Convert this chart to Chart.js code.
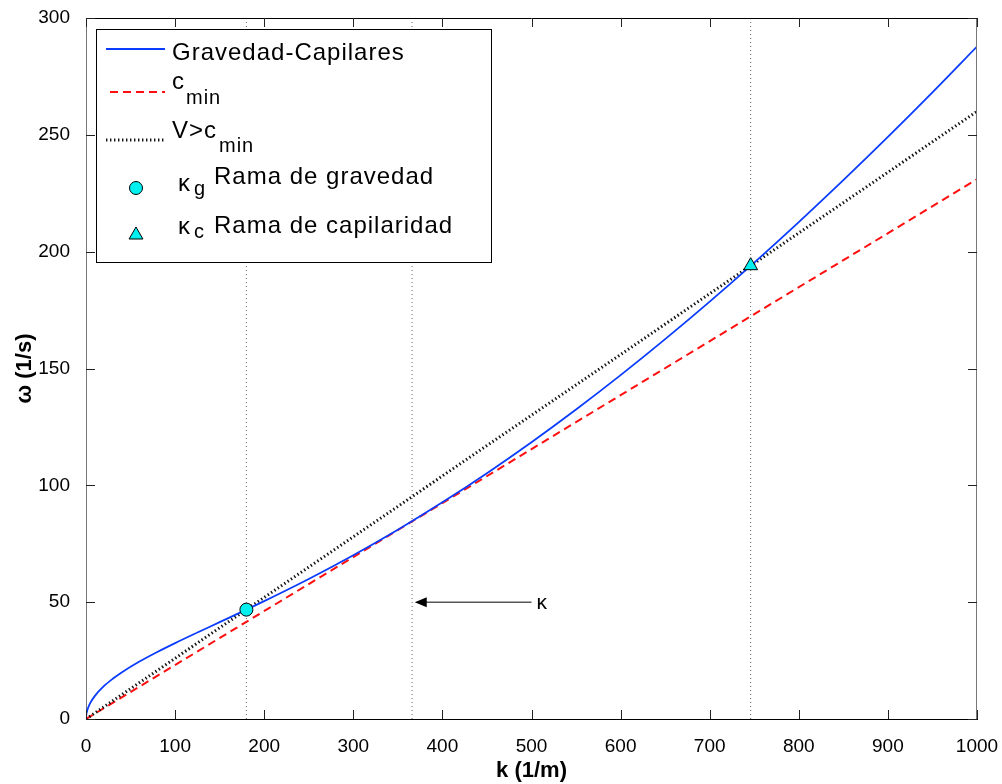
<!DOCTYPE html>
<html><head><meta charset="utf-8">
<script src="https://cdn.jsdelivr.net/npm/chart.js@4.4.1/dist/chart.umd.min.js"></script>
<style>html,body{margin:0;padding:0;background:#fff;}#wrap{width:1002px;height:784px;position:relative;}</style>
</head><body><div id="wrap"><canvas id="c"></canvas></div>
<script>
// ---- data ----
const kCurve = [0,0.25,1,2,5,10,20,30,40,60,80,100,125,150,180,200,250,300,350,400,450,500,550,600,650,700,750,800,850,900,950,1000];
const omegaCurve = [0,1.57,3.13,4.43,7.00,9.91,14.03,17.21,19.93,24.58,28.67,32.47,37.00,41.45,46.81,50.46,59.94,70.10,81.01,92.72,105.20,118.45,132.44,147.15,162.56,178.62,195.33,212.66,230.59,249.09,268.16,287.77];
const kLine = [0,1000];
const omegaCmin = [0,231];
const omegaV = [0,260];
const kGravity = [180];
const omegaGravity = [46.8];
const kCapillary = [746];
const omegaCapillary = [194.0];
const kVertical = [180,366,746];
const yRange = [0,300];
const xTicks = [0,100,200,300,400,500,600,700,800,900,1000];
const yTicks = [0,50,100,150,200,250,300];
const arrowK = [500,369];
const arrowOmega = 50;
const arrowLabel = 'κ';
const seriesNames = ['Gravedad-Capilares','c','V>c','Rama de gravedad','Rama de capilaridad'];

const FONT = "'Liberation Sans', Arial, Helvetica, sans-serif";
const pts = (xs, ys) => xs.map((x,i)=>({x:x, y:ys[i]}));

const datasets = [];
datasets.push({label:'κg', data:pts(kGravity,omegaGravity), showLine:false, pointStyle:'circle', pointRadius:6.5,
  backgroundColor:'#00f0f0', borderColor:'#000', borderWidth:1, order:0});
datasets.push({label:'κc', data:pts(kCapillary,omegaCapillary), showLine:false, pointStyle:'triangle', pointRadius:8,
  backgroundColor:'#00f0f0', borderColor:'#000', borderWidth:1, order:0});
datasets.push({label:seriesNames[0], data:pts(kCurve,omegaCurve), showLine:true, pointRadius:0, borderColor:'#0a3cff',
  borderWidth:1.8, cubicInterpolationMode:'monotone', order:1});
datasets.push({label:'V>c_min', data:pts(kLine,omegaV), showLine:true, pointRadius:0, borderColor:'#111',
  borderWidth:3, borderDash:[1.4,2.6], order:2});
datasets.push({label:'c_min', data:pts(kLine,omegaCmin), showLine:true, pointRadius:0, borderColor:'#ff1010',
  borderWidth:2, borderDash:[8,5], order:3});
kVertical.forEach((k)=>{
  datasets.push({label:'k='+k, data:pts([k,k],yRange), showLine:true, pointRadius:0, borderColor:'#666',
    borderWidth:1, borderDash:[1,3], order:4});
});

const decor = {
  id:'decor',
  afterDatasetsDraw(chart){
    const ctx = chart.ctx, a = chart.chartArea, xs = chart.scales.x, ys = chart.scales.y;
    ctx.save();
    // box and inner ticks
    ctx.lineWidth = 1;
    ctx.strokeStyle = '#000';
    ctx.beginPath(); ctx.moveTo(a.left, a.top+0.5); ctx.lineTo(a.right, a.top+0.5); ctx.stroke();
    ctx.strokeStyle = '#777';
    ctx.beginPath(); ctx.moveTo(a.right-0.5, a.top); ctx.lineTo(a.right-0.5, a.bottom); ctx.stroke();
    ctx.strokeStyle = '#222';
    const tl = 9;
    xTicks.forEach(v=>{
      const p = Math.round(xs.getPixelForValue(v))+0.5;
      ctx.beginPath(); ctx.moveTo(p,a.bottom); ctx.lineTo(p,a.bottom-tl); ctx.stroke();
      ctx.beginPath(); ctx.moveTo(p,a.top); ctx.lineTo(p,a.top+tl); ctx.stroke();
    });
    yTicks.forEach(v=>{
      const p = Math.round(ys.getPixelForValue(v))+0.5;
      ctx.beginPath(); ctx.moveTo(a.left,p); ctx.lineTo(a.left+tl,p); ctx.stroke();
      ctx.beginPath(); ctx.moveTo(a.right,p); ctx.lineTo(a.right-tl,p); ctx.stroke();
    });
    // arrow annotation
    const ay = ys.getPixelForValue(arrowOmega);
    const ax0 = xs.getPixelForValue(arrowK[0]), ax1 = xs.getPixelForValue(arrowK[1]);
    ctx.strokeStyle = '#000'; ctx.fillStyle = '#000'; ctx.lineWidth = 1;
    ctx.beginPath(); ctx.moveTo(ax0, ay); ctx.lineTo(ax1+10, ay); ctx.stroke();
    ctx.beginPath(); ctx.moveTo(ax1, ay); ctx.lineTo(ax1+12, ay-5); ctx.lineTo(ax1+12, ay+5); ctx.closePath(); ctx.fill();
    ctx.font = '21px '+FONT; ctx.textBaseline='middle'; ctx.textAlign='left';
    ctx.fillText(arrowLabel, ax0+5, ay+1);

    // legend
    const L = a.left+10, T = a.top+11, R = a.left+406, B = a.top+245;
    ctx.fillStyle = '#fff'; ctx.fillRect(L,T,R-L,B-T);
    ctx.lineWidth = 1; ctx.strokeStyle = '#000';
    ctx.strokeRect(L+0.5,T+0.5,R-L-1,B-T-1);
    const lx0 = L+10, lx1 = L+69, tx = L+76;
    // blue
    ctx.setLineDash([]); ctx.strokeStyle='#0a3cff'; ctx.lineWidth=1.8;
    ctx.beginPath(); ctx.moveTo(lx0, T+20); ctx.lineTo(lx1, T+20); ctx.stroke();
    // red
    ctx.setLineDash([8,5]); ctx.strokeStyle='#ff1010'; ctx.lineWidth=2; ctx.lineDashOffset = 0;
    ctx.beginPath(); ctx.moveTo(lx0+4, T+63); ctx.lineTo(lx1, T+63); ctx.stroke();
    // black dotted
    ctx.setLineDash([1.4,2.6]); ctx.strokeStyle='#111'; ctx.lineWidth=3;
    ctx.beginPath(); ctx.moveTo(lx0, T+111); ctx.lineTo(lx1, T+111); ctx.stroke();
    ctx.setLineDash([]);
    // markers
    ctx.lineWidth = 1; ctx.strokeStyle='#000'; ctx.fillStyle='#00f0f0';
    ctx.beginPath(); ctx.arc(L+40, T+159, 6.5, 0, Math.PI*2); ctx.fill(); ctx.stroke();
    const tcx = L+40, tcy = T+206, r = 8;
    ctx.beginPath();
    ctx.moveTo(tcx, tcy-r); ctx.lineTo(tcx+r*0.866, tcy+r*0.5); ctx.lineTo(tcx-r*0.866, tcy+r*0.5); ctx.closePath();
    ctx.fill(); ctx.stroke();
    // texts
    ctx.fillStyle = '#000'; ctx.textBaseline='alphabetic'; ctx.textAlign='left';
    try { ctx.letterSpacing = '1px'; } catch(e) {}
    const big = '24px '+FONT, sub = '20px '+FONT;
    ctx.font = big; ctx.fillText(seriesNames[0], tx, T+31);
    ctx.font = big; ctx.fillText(seriesNames[1], tx, T+60);
    ctx.font = sub; ctx.fillText('min', tx+14, T+75);
    ctx.font = big; ctx.fillText(seriesNames[2], tx, T+109);
    ctx.font = sub; ctx.fillText('min', tx+47, T+123);
    ctx.font = big; ctx.fillText('κ', tx+6, T+162);
    ctx.font = sub; ctx.fillText('g', tx+22, T+166);
    ctx.font = big; ctx.fillText(seriesNames[3], tx+42, T+155);
    ctx.font = big; ctx.fillText('κ', tx+6, T+205);
    ctx.font = sub; ctx.fillText('c', tx+22, T+209);
    ctx.font = big; ctx.fillText(seriesNames[4], tx+42, T+204);
    ctx.restore();
  }
};

new Chart(document.getElementById('c'), {
  type:'scatter',
  data:{datasets},
  options:{
    responsive:true, maintainAspectRatio:false, animation:false,
    layout:{padding:{left:0,right:25,top:18,bottom:0}},
    plugins:{legend:{display:false}, tooltip:{enabled:false}},
    scales:{
      x:{type:'linear', min:0, max:1000,
        afterBuildTicks(s){ s.ticks = xTicks.map(v=>({value:v})); },
        afterFit(s){ s.height = 65; s.paddingLeft = 0; s.paddingRight = 0; },
        grid:{display:false}, border:{display:true,color:'#000',width:1},
        ticks:{color:'#000', font:{family:FONT,size:19}, padding:8, maxRotation:0, autoSkip:false, callback:v=>String(v)},
        title:{display:true, text:'k (1/m)', color:'#000', font:{family:FONT,size:22,weight:'bold'}, padding:{top:5,bottom:0}}
      },
      y:{type:'linear', min:0, max:300,
        afterBuildTicks(s){ s.ticks = yTicks.map(v=>({value:v})); },
        afterFit(s){ s.width = 86; s.paddingTop = 0; s.paddingBottom = 0; },
        grid:{display:false}, border:{display:true,color:'#777',width:1},
        ticks:{color:'#000', font:{family:FONT,size:19}, padding:8, autoSkip:false, callback:v=>String(v)},
        title:{display:true, text:'ω (1/s)', color:'#000', font:{family:FONT,size:22,weight:'bold'}, padding:{top:12,bottom:0}}
      }
    }
  },
  plugins:[decor]
});
</script></body></html>
